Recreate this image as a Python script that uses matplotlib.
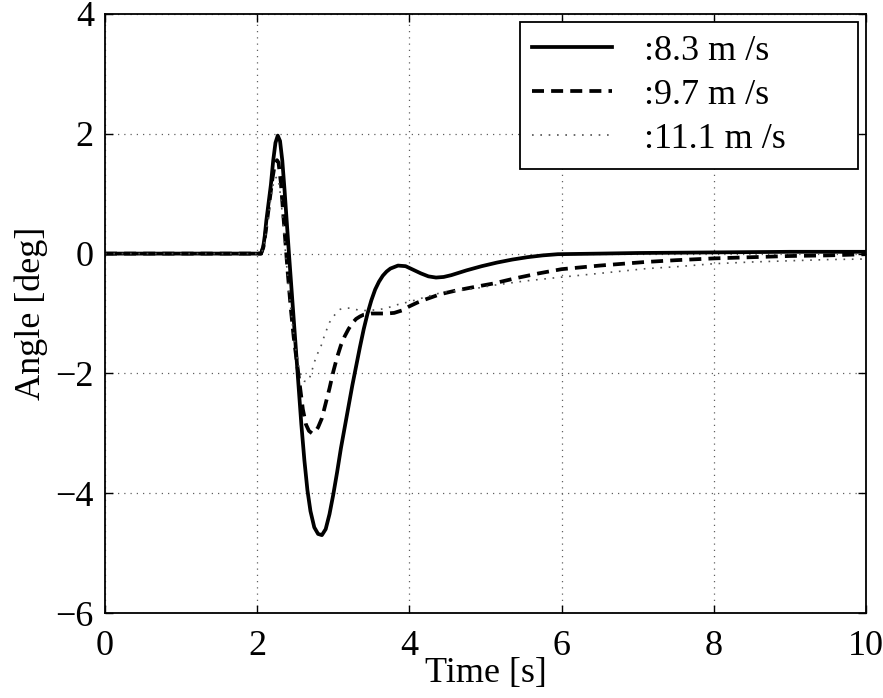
import matplotlib
matplotlib.use("Agg")
import matplotlib.pyplot as plt

plt.rcParams['font.family'] = ['Liberation Serif', 'DejaVu Serif']

# --- data ---
t_83 = [0, 2.0, 2.05, 2.08, 2.10, 2.12, 2.15, 2.18, 2.21, 2.24, 2.27, 2.30, 2.33, 2.36, 2.39,
        2.42, 2.46, 2.50, 2.54, 2.58, 2.62, 2.66, 2.70, 2.75, 2.80, 2.85, 2.90, 2.95, 3.00, 3.05,
        3.10, 3.15, 3.20, 3.25, 3.30, 3.35, 3.40, 3.45, 3.50, 3.55, 3.60, 3.65, 3.70, 3.75, 3.85,
        3.95, 4.05, 4.15, 4.25, 4.35, 4.45, 4.55, 4.75, 4.95, 5.15, 5.35, 5.55, 5.75, 5.95, 6.5,
        7.0, 8.0, 9.0, 10.0]
y_83 = [0, 0, 0, 0.12, 0.3, 0.55, 0.85, 1.15, 1.55, 1.85, 1.97, 1.88, 1.55, 1.05, 0.5,
        -0.05, -0.75, -1.45, -2.15, -2.85, -3.45, -3.95, -4.3, -4.57, -4.68, -4.7, -4.6, -4.35, -4.02, -3.65,
        -3.25, -2.9, -2.55, -2.2, -1.88, -1.56, -1.26, -1.0, -0.78, -0.6, -0.47, -0.37, -0.3, -0.25, -0.2,
        -0.21, -0.27, -0.33, -0.38, -0.4, -0.39, -0.36, -0.28, -0.21, -0.15, -0.1, -0.06, -0.03, -0.01, 0.0,
        0.01, 0.02, 0.03, 0.03]

t_97 = [0, 2.0, 2.05, 2.08, 2.11, 2.14, 2.17, 2.20, 2.23, 2.26, 2.28, 2.31, 2.34, 2.37, 2.40,
        2.44, 2.48, 2.52, 2.56, 2.60, 2.64, 2.68, 2.72, 2.76, 2.80, 2.85, 2.90, 2.95, 3.00, 3.05,
        3.10, 3.15, 3.20, 3.25, 3.30, 3.35, 3.40, 3.50, 3.60, 3.70, 3.80, 3.90, 4.00, 4.10, 4.20,
        4.40, 4.60, 4.80, 5.10, 5.40, 5.70, 6.00, 6.50, 7.10, 7.50, 8.00, 8.50, 9.00, 9.50, 10.0]
y_97 = [0, 0, 0, 0.1, 0.35, 0.65, 0.95, 1.25, 1.48, 1.56, 1.52, 1.2, 0.7, 0.2, -0.3,
        -0.9, -1.4, -1.8, -2.2, -2.6, -2.85, -2.96, -3.0, -2.98, -2.9, -2.75, -2.5, -2.25, -1.97, -1.73,
        -1.53, -1.38, -1.26, -1.16, -1.09, -1.05, -1.02, -1.0, -1.0, -1.0, -0.99, -0.95, -0.88, -0.82, -0.77,
        -0.68, -0.62, -0.57, -0.5, -0.41, -0.33, -0.26, -0.2, -0.14, -0.11, -0.08, -0.06, -0.04, -0.03, -0.01]

t_111 = [0, 2.0, 2.05, 2.08, 2.11, 2.14, 2.17, 2.20, 2.23, 2.26, 2.29, 2.32, 2.35, 2.38, 2.42,
         2.46, 2.50, 2.54, 2.58, 2.62, 2.65, 2.68, 2.71, 2.74, 2.78, 2.83, 2.87, 2.91, 2.95, 3.00,
         3.05, 3.09, 3.15, 3.20, 3.26, 3.32, 3.37, 3.45, 3.55, 3.62, 3.70, 3.85, 4.01, 4.20, 4.45,
         4.70, 4.88, 5.10, 5.50, 6.02, 6.50, 7.12, 7.50, 7.99, 8.50, 9.00, 9.50, 10.0]
y_111 = [0, 0, 0, 0.08, 0.3, 0.55, 0.85, 1.1, 1.25, 1.28, 1.15, 0.8, 0.35, -0.1, -0.65,
         -1.15, -1.55, -1.85, -2.05, -2.13, -2.14, -2.1, -2.0, -1.86, -1.7, -1.58, -1.42, -1.28, -1.15, -1.05,
         -0.98, -0.93, -0.91, -0.91, -0.92, -0.94, -0.95, -0.95, -0.94, -0.93, -0.91, -0.85, -0.8, -0.73, -0.64,
         -0.61, -0.58, -0.53, -0.46, -0.39, -0.33, -0.25, -0.22, -0.17, -0.14, -0.12, -0.1, -0.09]

labels = [':8.3 m /s', ':9.7 m /s', ':11.1 m /s']
x_ticks = [0, 2, 4, 6, 8, 10]
y_ticks = [-6, -4, -2, 0, 2, 4]

fig = plt.figure(figsize=(8.83, 6.98), dpi=100)
ax = fig.add_axes([105 / 883, 1 - 613 / 698, 761 / 883, 599 / 698])

ax.plot(t_83, y_83, color='black', lw=2.7, linestyle='-', label=labels[0])
ax.plot(t_97, y_97, color='black', lw=2.7, linestyle=(0, (3.2, 1.9)), label=labels[1])
ax.plot(t_111, y_111, color='#505050', lw=1.2, linestyle=(0, (1, 4)), label=labels[2])

ax.set_xlim(0, 10)
ax.set_ylim(-6, 4)
ax.set_xticks(x_ticks)
ax.set_yticks(y_ticks)
ax.grid(True, color='#606060', linestyle=(0, (1, 4)), lw=0.9)
ax.tick_params(direction='in', length=6, width=1, top=True, right=True,
               labelsize=26, pad=8)
ax.tick_params(axis='x', pad=12)
for s in ax.spines.values():
    s.set_linewidth(1.3)

ax.set_xlabel('Time [s]', fontsize=26, labelpad=-4)
ax.set_ylabel('Angle [deg]', fontsize=26, labelpad=5)

leg = ax.legend(loc='upper left', bbox_to_anchor=(0.545, 0.743, 0.444, 0.244),
                mode='expand', borderaxespad=0,
                fontsize=26, handlelength=2.2, handletextpad=0.9, labelspacing=0.3,
                fancybox=False, framealpha=1, edgecolor='black', borderpad=0.35)
leg.get_frame().set_linewidth(1.3)

fig.savefig('out.png', dpi=100)
